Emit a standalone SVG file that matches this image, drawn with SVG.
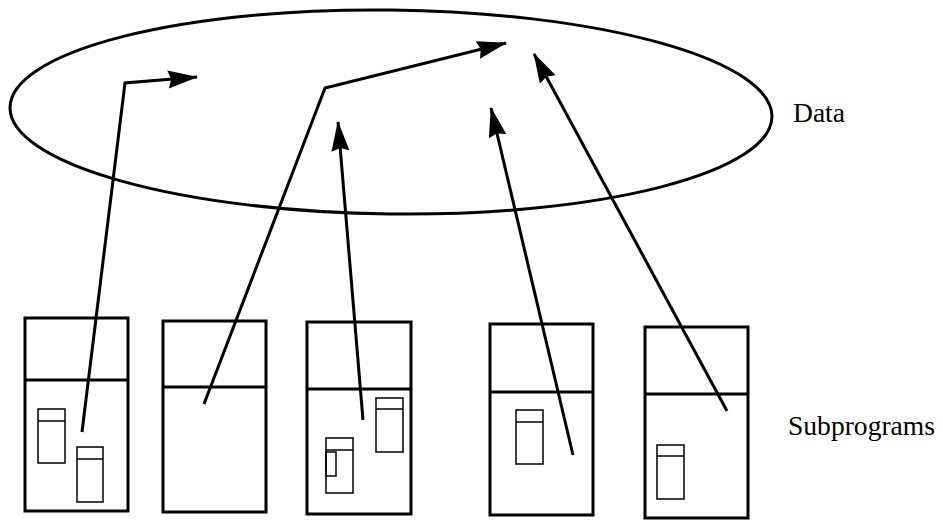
<svg xmlns="http://www.w3.org/2000/svg" width="943" height="521" viewBox="0 0 943 521">
<style>
.box{fill:none;stroke:#000;stroke-width:3}
.in{fill:none;stroke:#000;stroke-width:1.5}
.conn{fill:none;stroke:#000;stroke-width:3;stroke-linejoin:miter}
.lbl{font-family:"Liberation Serif","Times New Roman",serif;font-size:27px;fill:#000}
</style>
<defs>
<marker id="ah" markerUnits="userSpaceOnUse" markerWidth="32" markerHeight="20" refX="29" refY="9" orient="auto" viewBox="0 0 32 20">
<path d="M0,0 L30,9 L0,18 L3,9 Z" fill="#000"/>
</marker>
</defs>
<rect width="943" height="521" fill="#fff"/>
<g id="data">
<ellipse cx="391" cy="112" rx="381" ry="102" transform="rotate(0.7 391 112)" fill="none" stroke="#000" stroke-width="3"/>
<text class="lbl" x="793" y="122" textLength="52" lengthAdjust="spacingAndGlyphs">Data</text>
</g>
<g id="sub1">
<rect class="box" x="25" y="318" width="103" height="193"/>
<line class="box" x1="25" y1="380" x2="128" y2="380"/>
<rect class="in" x="38" y="409" width="27" height="54"/>
<line class="in" x1="38" y1="421" x2="65" y2="421"/>
<rect class="in" x="77" y="447" width="26" height="55"/>
<line class="in" x1="77" y1="459" x2="103" y2="459"/>
</g>
<g id="sub2">
<rect class="box" x="163" y="321" width="103" height="191"/>
<line class="box" x1="163" y1="387" x2="266" y2="387"/>
</g>
<g id="sub3">
<rect class="box" x="307" y="322" width="104" height="192"/>
<line class="box" x1="307" y1="389" x2="411" y2="389"/>
<rect class="in" x="376" y="398" width="27" height="54"/>
<line class="in" x1="376" y1="409" x2="403" y2="409"/>
<rect class="in" x="326" y="438" width="27" height="55"/>
<line class="in" x1="326" y1="450" x2="353" y2="450"/>
<rect class="in" x="326" y="452" width="10" height="24"/>
</g>
<g id="sub4">
<rect class="box" x="490" y="324" width="103" height="191"/>
<line class="box" x1="490" y1="392" x2="593" y2="392"/>
<rect class="in" x="516" y="410" width="27" height="54"/>
<line class="in" x1="516" y1="422" x2="543" y2="422"/>
</g>
<g id="sub5">
<rect class="box" x="645" y="327" width="103" height="191"/>
<line class="box" x1="645" y1="394" x2="748" y2="394"/>
<rect class="in" x="657" y="445" width="27" height="54"/>
<line class="in" x1="657" y1="456" x2="684" y2="456"/>
<text class="lbl" x="788" y="435" textLength="147" lengthAdjust="spacingAndGlyphs">Subprograms</text>
</g>
<g id="connectors">
<polyline class="conn" points="82,432 125,83 197,77" marker-end="url(#ah)"/>
<polyline class="conn" points="204,404 325,88 506,43" marker-end="url(#ah)"/>
<polyline class="conn" points="363,420 338,122" marker-end="url(#ah)"/>
<polyline class="conn" points="573,455 491,108" marker-end="url(#ah)"/>
<polyline class="conn" points="727,411 534,54" marker-end="url(#ah)"/>
</g>
</svg>
